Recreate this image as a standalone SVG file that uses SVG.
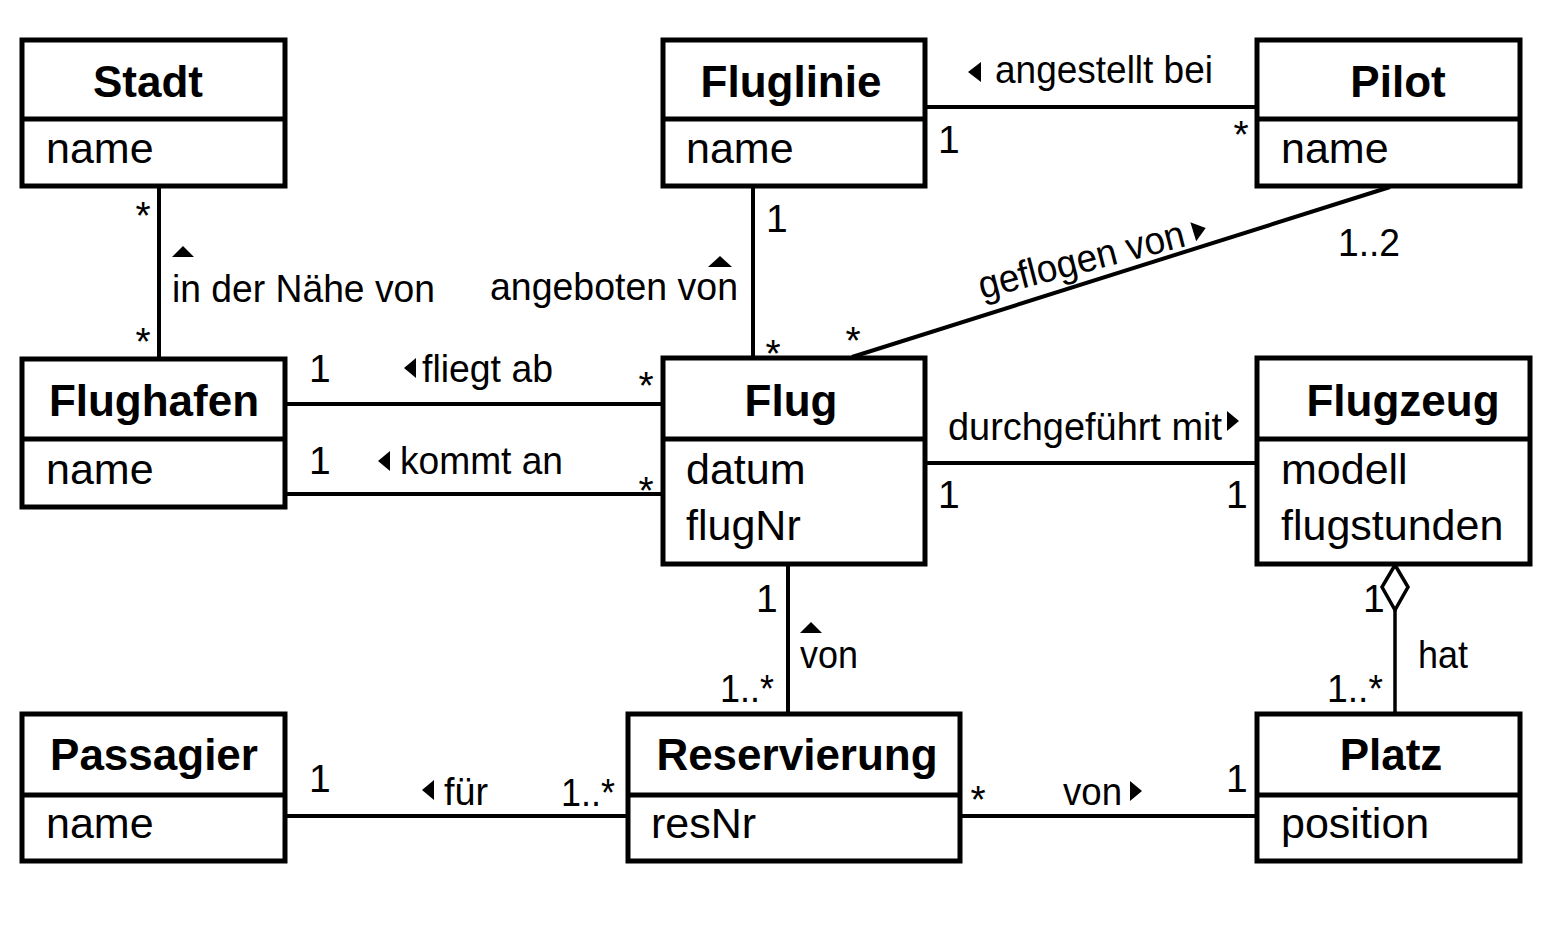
<svg xmlns="http://www.w3.org/2000/svg" width="1560" height="940" viewBox="0 0 1560 940">
<style>
.box{fill:#fff;stroke:#000;stroke-width:5}
.div{stroke:#000;stroke-width:5}
.cn{font-family:"Liberation Sans",Arial,sans-serif;font-weight:bold;font-size:44px;fill:#000;text-anchor:middle}
.at{font-family:"Liberation Sans",Arial,sans-serif;font-size:43px;fill:#000}
.lb{font-family:"Liberation Sans",Arial,sans-serif;font-size:39px;fill:#000}
.st{font-family:"Liberation Sans",Arial,sans-serif;font-size:39px;fill:#000;text-anchor:middle}
.ln{stroke:#000;stroke-width:4;fill:none}
.tri{fill:#000}
</style>
<rect width="1560" height="940" fill="#fff"/>
<g id="connectors">
<line class="ln" x1="159" y1="186" x2="159" y2="359"/>
<line class="ln" x1="925" y1="107" x2="1257" y2="107"/>
<line class="ln" x1="753" y1="186" x2="753" y2="358"/>
<line class="ln" x1="852" y1="357" x2="1390" y2="187"/>
<line class="ln" x1="285" y1="404" x2="663" y2="404"/>
<line class="ln" x1="285" y1="494" x2="663" y2="494"/>
<line class="ln" x1="925" y1="463" x2="1257" y2="463"/>
<line class="ln" x1="788" y1="564" x2="788" y2="714"/>
<line class="ln" x1="1395" y1="610" x2="1395" y2="714" style="stroke-width:3.5"/>
<polygon points="1395,565 1408,587 1395,610 1382,587" fill="#fff" stroke="#000" stroke-width="3.5"/>
<line class="ln" x1="285" y1="816" x2="628" y2="816"/>
<line class="ln" x1="960" y1="816" x2="1257" y2="816"/>
<!-- labels -->
<polygon class="tri" points="172,257 194,257 183,246"/>
<text class="lb" x="172" y="302" textLength="263" lengthAdjust="spacingAndGlyphs">in der Nähe von</text>
<polygon class="tri" points="708,267 732,267 720,256"/>
<text class="lb" x="490" y="300" textLength="248" lengthAdjust="spacingAndGlyphs">angeboten von</text>
<polygon class="tri" points="968,72 981,62 981,82"/>
<text class="lb" x="995" y="83" textLength="218" lengthAdjust="spacingAndGlyphs">angestellt bei</text>
<text class="lb" x="982" y="299" textLength="212" lengthAdjust="spacingAndGlyphs" transform="rotate(-14.5 982 299)">geflogen von</text>
<polygon class="tri" points="-6,-10 7,0 -6,10" transform="translate(1199 230) rotate(-17)"/>
<polygon class="tri" points="404,368 416,358 416,378"/>
<text class="lb" x="422" y="382" textLength="131" lengthAdjust="spacingAndGlyphs">fliegt ab</text>
<polygon class="tri" points="378,461 390,451 390,471"/>
<text class="lb" x="400" y="474" textLength="163" lengthAdjust="spacingAndGlyphs">kommt an</text>
<text class="lb" x="948" y="440" textLength="274" lengthAdjust="spacingAndGlyphs">durchgeführt mit</text>
<polygon class="tri" points="1239,421 1227,411 1227,431"/>
<polygon class="tri" points="800,633 822,633 811,622"/>
<text class="lb" x="800" y="668" textLength="58" lengthAdjust="spacingAndGlyphs">von</text>
<text class="lb" x="1418" y="668" textLength="50" lengthAdjust="spacingAndGlyphs">hat</text>
<polygon class="tri" points="422,790 434,780 434,800"/>
<text class="lb" x="444" y="805" textLength="44" lengthAdjust="spacingAndGlyphs">für</text>
<text class="lb" x="1063" y="805" textLength="59" lengthAdjust="spacingAndGlyphs">von</text>
<polygon class="tri" points="1142,791 1130,781 1130,801"/>
<!-- multiplicities -->
<text class="st" x="143" y="229">*</text>
<text class="st" x="143" y="355">*</text>
<text class="lb" x="938" y="153">1</text>
<text class="st" x="1241" y="148">*</text>
<text class="lb" x="766" y="232">1</text>
<text class="st" x="773" y="367">*</text>
<text class="st" x="853" y="354">*</text>
<text class="lb" x="1338" y="256" textLength="62" lengthAdjust="spacingAndGlyphs">1..2</text>
<text class="lb" x="309" y="382">1</text>
<text class="st" x="646" y="399">*</text>
<text class="lb" x="309" y="474">1</text>
<text class="st" x="646" y="504">*</text>
<text class="lb" x="938" y="508">1</text>
<text class="lb" x="1226" y="508">1</text>
<text class="lb" x="756" y="612">1</text>
<text class="lb" x="720" y="702" textLength="54" lengthAdjust="spacingAndGlyphs">1..*</text>
<text class="lb" x="1363" y="612">1</text>
<text class="lb" x="1327" y="702" textLength="56" lengthAdjust="spacingAndGlyphs">1..*</text>
<text class="lb" x="309" y="792">1</text>
<text class="lb" x="561" y="806" textLength="54" lengthAdjust="spacingAndGlyphs">1..*</text>
<text class="st" x="978" y="813">*</text>
<text class="lb" x="1226" y="792">1</text>
</g>
<g id="Stadt">
<rect class="box" x="22" y="40" width="263" height="146"/>
<line class="div" x1="22" y1="119" x2="285" y2="119"/>
<text class="cn" x="148" y="97">Stadt</text>
<text class="at" x="46" y="163">name</text>
</g>
<g id="Fluglinie">
<rect class="box" x="663" y="40" width="262" height="146"/>
<line class="div" x1="663" y1="119" x2="925" y2="119"/>
<text class="cn" x="791" y="97">Fluglinie</text>
<text class="at" x="686" y="163">name</text>
</g>
<g id="Pilot">
<rect class="box" x="1257" y="40" width="263" height="146"/>
<line class="div" x1="1257" y1="119" x2="1520" y2="119"/>
<text class="cn" x="1398" y="97">Pilot</text>
<text class="at" x="1281" y="163">name</text>
</g>
<g id="Flughafen">
<rect class="box" x="22" y="359" width="263" height="148"/>
<line class="div" x1="22" y1="439" x2="285" y2="439"/>
<text class="cn" x="154" y="416">Flughafen</text>
<text class="at" x="46" y="484">name</text>
</g>
<g id="Flug">
<rect class="box" x="663" y="358" width="262" height="206"/>
<line class="div" x1="663" y1="439" x2="925" y2="439"/>
<text class="cn" x="791" y="416">Flug</text>
<text class="at" x="686" y="484">datum</text>
<text class="at" x="686" y="540">flugNr</text>
</g>
<g id="Flugzeug">
<rect class="box" x="1257" y="358" width="273" height="206"/>
<line class="div" x1="1257" y1="439" x2="1530" y2="439"/>
<text class="cn" x="1403" y="416">Flugzeug</text>
<text class="at" x="1281" y="484">modell</text>
<text class="at" x="1281" y="540">flugstunden</text>
</g>
<g id="Passagier">
<rect class="box" x="22" y="714" width="263" height="147"/>
<line class="div" x1="22" y1="795" x2="285" y2="795"/>
<text class="cn" x="154" y="770">Passagier</text>
<text class="at" x="46" y="838">name</text>
</g>
<g id="Reservierung">
<rect class="box" x="628" y="714" width="332" height="147"/>
<line class="div" x1="628" y1="795" x2="960" y2="795"/>
<text class="cn" x="797" y="770">Reservierung</text>
<text class="at" x="651" y="838">resNr</text>
</g>
<g id="Platz">
<rect class="box" x="1257" y="714" width="263" height="147"/>
<line class="div" x1="1257" y1="795" x2="1520" y2="795"/>
<text class="cn" x="1391" y="770">Platz</text>
<text class="at" x="1281" y="838">position</text>
</g>
</svg>
